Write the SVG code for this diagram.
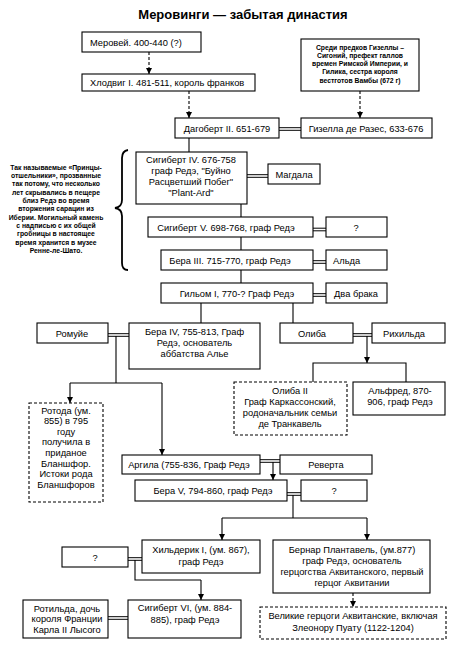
<svg xmlns="http://www.w3.org/2000/svg" width="463" height="649" viewBox="0 0 463 649">
<style>
.b{fill:#fff;stroke:#000;stroke-width:1.1}
.d{fill:#fff;stroke:#000;stroke-width:1.1;stroke-dasharray:3,2}
.t{font-family:"Liberation Sans",Arial,sans-serif;font-size:9.3px;fill:#000}
.m{text-anchor:middle}
.s{font-family:"Liberation Sans",Arial,sans-serif;font-size:6.8px;font-weight:bold;fill:#000;text-anchor:middle}
.c{fill:none;stroke:#000;stroke-width:1.1}
.cd{fill:none;stroke:#000;stroke-width:1.1;stroke-dasharray:3,2}
.w{fill:none;stroke:#000;stroke-width:1}
</style>
<defs>
<marker id="ah" markerWidth="6" markerHeight="6" refX="6" refY="3" orient="auto" markerUnits="userSpaceOnUse"><path d="M0,0 L6,3 L0,6 z" fill="#000"/></marker>
</defs>
<rect width="463" height="649" fill="#fff"/>
<text x="243" y="18.5" font-family="Liberation Sans,Arial,sans-serif" font-size="13px" font-weight="bold" text-anchor="middle">Меровинги — забытая династия</text>

<g id="connectors">
<path class="cd" d="M149,52 V74" marker-end="url(#ah)"/>
<path class="cd" d="M189,91 V118" marker-end="url(#ah)"/>
<path class="cd" d="M360,91 V118" marker-end="url(#ah)"/>
<path class="c" d="M189,138 V152"/>
<path class="c" d="M241,204 V217 M241,237 V250 M241,270 V283"/>
<path class="c" d="M201,303 V323 M293,303 V323"/>
<path class="c" d="M116,336 V383 M70,383 H162"/>
<path class="c" d="M70,383 V403" marker-end="url(#ah)"/>
<path class="c" d="M162,383 V455" marker-end="url(#ah)"/>
<path class="c" d="M367,336 V363" marker-end="url(#ah)"/>
<path class="c" d="M313,382 V363 H406 V382"/>
<path class="c" d="M273,462 V480" marker-end="url(#ah)"/>
<path class="c" d="M293,495 V518 M222,518 H367"/>
<path class="c" d="M222,518 V540" marker-end="url(#ah)"/>
<path class="c" d="M367,518 V540" marker-end="url(#ah)"/>
<path class="c" d="M135,560 V580 H201"/>
<path class="c" d="M201,580 V600" marker-end="url(#ah)"/>
<path class="cd" d="M353,593 V607" marker-end="url(#ah)"/>
<path class="w" d="M279,127.7 H301 M279,130.3 H301"/>
<path class="w" d="M247,174.7 H268 M247,177.3 H268"/>
<path class="w" d="M313,228.2 H326 M313,230.8 H326"/>
<path class="w" d="M313,260.7 H326 M313,263.3 H326"/>
<path class="w" d="M313,293.7 H326 M313,296.3 H326"/>
<path class="w" d="M108,333.7 H129 M108,336.3 H129"/>
<path class="w" d="M353,333.7 H372 M353,336.3 H372"/>
<path class="w" d="M260,459.7 H280 M260,462.3 H280"/>
<path class="w" d="M287,492.7 H301 M287,495.3 H301"/>
<path class="w" d="M128,557.7 H142 M128,560.3 H142"/>
<path class="w" d="M108,616.7 H128 M108,619.3 H128"/>
<path d="M128,150 Q122,151 122,158 L122,200 Q122,207 115,208 Q122,209 122,216 L122,263 Q122,270 128,270" fill="none" stroke="#000" stroke-width="1.8"/>
</g>

<g id="note-left">
<text class="s" x="56" y="169.5">Так называемые «Принцы-</text>
<text class="s" x="56" y="177.9">отшельники», прозванные</text>
<text class="s" x="56" y="186.2">так потому, что несколько</text>
<text class="s" x="56" y="194.6">лет скрывались в пещере</text>
<text class="s" x="56" y="202.9">близ Редэ во время</text>
<text class="s" x="56" y="211.3">вторжения сарацин из</text>
<text class="s" x="56" y="219.6">Иберии. Могильный камень</text>
<text class="s" x="56" y="228">с надписью с их общей</text>
<text class="s" x="56" y="236.3">гробницы в настоящее</text>
<text class="s" x="56" y="244.7">время хранится в музее</text>
<text class="s" x="56" y="253">Ренне-ле-Шато.</text>
</g>

<g id="merovei"><rect class="b" x="82" y="32" width="119" height="20"/><text class="t" x="90" y="45.5">Меровей. 400-440 (?)</text></g>
<g id="hlodvig"><rect class="b" x="82" y="74" width="173" height="17"/><text class="t" x="90" y="86">Хлодвиг I. 481-511, король франков</text></g>
<g id="note-right"><rect class="b" x="301" y="39" width="118" height="52"/>
<text class="s" x="360" y="49.5">Среди предков Гизеллы –</text>
<text class="s" x="360" y="57.8">Сигоний, префект галлов</text>
<text class="s" x="360" y="66.1">времен Римской Империи, и</text>
<text class="s" x="360" y="74.4">Гилика, сестра короля</text>
<text class="s" x="360" y="82.7">вестготов Вамбы (672 г)</text>
</g>
<g id="dagobert"><rect class="b" x="175" y="118" width="104" height="20"/><text class="t m" x="227" y="132">Дагоберт II. 651-679</text></g>
<g id="gisella"><rect class="b" x="301" y="118" width="131" height="20"/><text class="t m" x="366" y="132">Гизелла де Разес, 633-676</text></g>
<g id="sigibert4"><rect class="b" x="136" y="152" width="111" height="52"/>
<text class="t m" x="191" y="163">Сигиберт IV. 676-758</text>
<text class="t m" x="191" y="174">граф Редэ, "Буйно</text>
<text class="t m" x="191" y="185">Расцветший Побег"</text>
<text class="t m" x="191" y="196">"Plant-Ard"</text></g>
<g id="magdala"><rect class="b" x="268" y="164" width="52" height="20"/><text class="t m" x="294" y="178">Магдала</text></g>
<g id="sigibert5"><rect class="b" x="148" y="217" width="165" height="20"/><text class="t m" x="226" y="231">Сигиберт V. 698-768, граф Редэ</text></g>
<g id="q1"><rect class="b" x="326" y="217" width="61" height="20"/><text class="t m" x="356" y="231">?</text></g>
<g id="bera3"><rect class="b" x="161" y="250" width="152" height="20"/><text class="t m" x="230" y="264">Бера III. 715-770, граф Редэ</text></g>
<g id="alda"><rect class="b" x="326" y="250" width="61" height="20"/><text class="t" x="333" y="264">Альда</text></g>
<g id="gilhom"><rect class="b" x="161" y="283" width="152" height="20"/><text class="t m" x="237" y="297">Гильом I, 770-? Граф Редэ</text></g>
<g id="dva-braka"><rect class="b" x="326" y="283" width="61" height="20"/><text class="t m" x="356" y="297">Два брака</text></g>
<g id="romuie"><rect class="b" x="37" y="323" width="71" height="20"/><text class="t m" x="72" y="337">Ромуйе</text></g>
<g id="bera4"><rect class="b" x="129" y="323" width="131" height="46"/>
<text class="t m" x="194.5" y="335">Бера IV, 755-813, Граф</text>
<text class="t m" x="194.5" y="346">Редэ, основатель</text>
<text class="t m" x="194.5" y="357">аббатства Алье</text></g>
<g id="oliba"><rect class="b" x="280" y="323" width="73" height="20"/><text class="t m" x="312" y="337">Олиба</text></g>
<g id="rihilda"><rect class="b" x="372" y="323" width="73" height="20"/><text class="t m" x="404" y="337">Рихильда</text></g>
<g id="oliba2"><rect class="d" x="234" y="382" width="113" height="53"/>
<text class="t m" x="290" y="394">Олиба II</text>
<text class="t m" x="290" y="405">Граф Каркассонский,</text>
<text class="t m" x="290" y="416">родоначальник семьи</text>
<text class="t m" x="290" y="427">де Транкавель</text></g>
<g id="alfred"><rect class="b" x="353" y="382" width="92" height="33"/>
<text class="t m" x="400" y="394">Альфред, 870-</text>
<text class="t m" x="400" y="405">906, граф Редэ</text></g>
<g id="rotoda"><rect class="d" x="29" y="403" width="74" height="99"/>
<text class="t m" x="66" y="413.5">Ротода (ум.</text>
<text class="t m" x="66" y="424.1">855) в 795</text>
<text class="t m" x="66" y="434.7">году</text>
<text class="t m" x="66" y="445.3">получила в</text>
<text class="t m" x="66" y="455.9">приданое</text>
<text class="t m" x="66" y="466.5">Бланшфор.</text>
<text class="t m" x="66" y="477.1">Истоки рода</text>
<text class="t m" x="66" y="487.7">Бланшфоров</text></g>
<g id="argila"><rect class="b" x="122" y="455" width="138" height="19"/><text class="t m" x="189" y="468">Аргила (755-836, Граф Редэ</text></g>
<g id="reverta"><rect class="b" x="280" y="455" width="92" height="19"/><text class="t m" x="326" y="468">Реверта</text></g>
<g id="bera5"><rect class="b" x="135" y="480" width="152" height="21"/><text class="t m" x="213" y="494">Бера V, 794-860, граф Редэ</text></g>
<g id="q2"><rect class="b" x="301" y="480" width="66" height="21"/><text class="t m" x="334" y="494">?</text></g>
<g id="hilderik"><rect class="b" x="142" y="540" width="118" height="33"/>
<text class="t m" x="201" y="553">Хильдерик I, (ум. 867),</text>
<text class="t m" x="201" y="565">граф Редэ</text></g>
<g id="bernar"><rect class="b" x="273" y="540" width="157" height="53"/>
<text class="t m" x="352" y="553">Бернар Плантавель, (ум.877)</text>
<text class="t m" x="352" y="564">граф Редэ, основатель</text>
<text class="t m" x="352" y="575">герцогства Аквитанского, первый</text>
<text class="t m" x="352" y="586">герцог Аквитании</text></g>
<g id="q3"><rect class="b" x="62" y="547" width="66" height="20"/><text class="t m" x="95" y="561">?</text></g>
<g id="sigibert6"><rect class="b" x="128" y="600" width="113" height="38"/>
<text class="t m" x="185" y="611">Сигиберт VI, (ум. 884-</text>
<text class="t m" x="185" y="623">885), граф Редэ</text></g>
<g id="rotilda"><rect class="b" x="23" y="600" width="85" height="38"/>
<text class="t m" x="67" y="611.5">Ротильда, дочь</text>
<text class="t m" x="67" y="622">короля Франции</text>
<text class="t m" x="67" y="632.5">Карла II Лысого</text></g>
<g id="velikie"><rect class="d" x="260" y="607" width="186" height="32"/>
<text class="t m" x="353" y="619">Великие герцоги Аквитанские, включая</text>
<text class="t m" x="353" y="631">Злеонору Пуату (1122-1204)</text></g>
</svg>
